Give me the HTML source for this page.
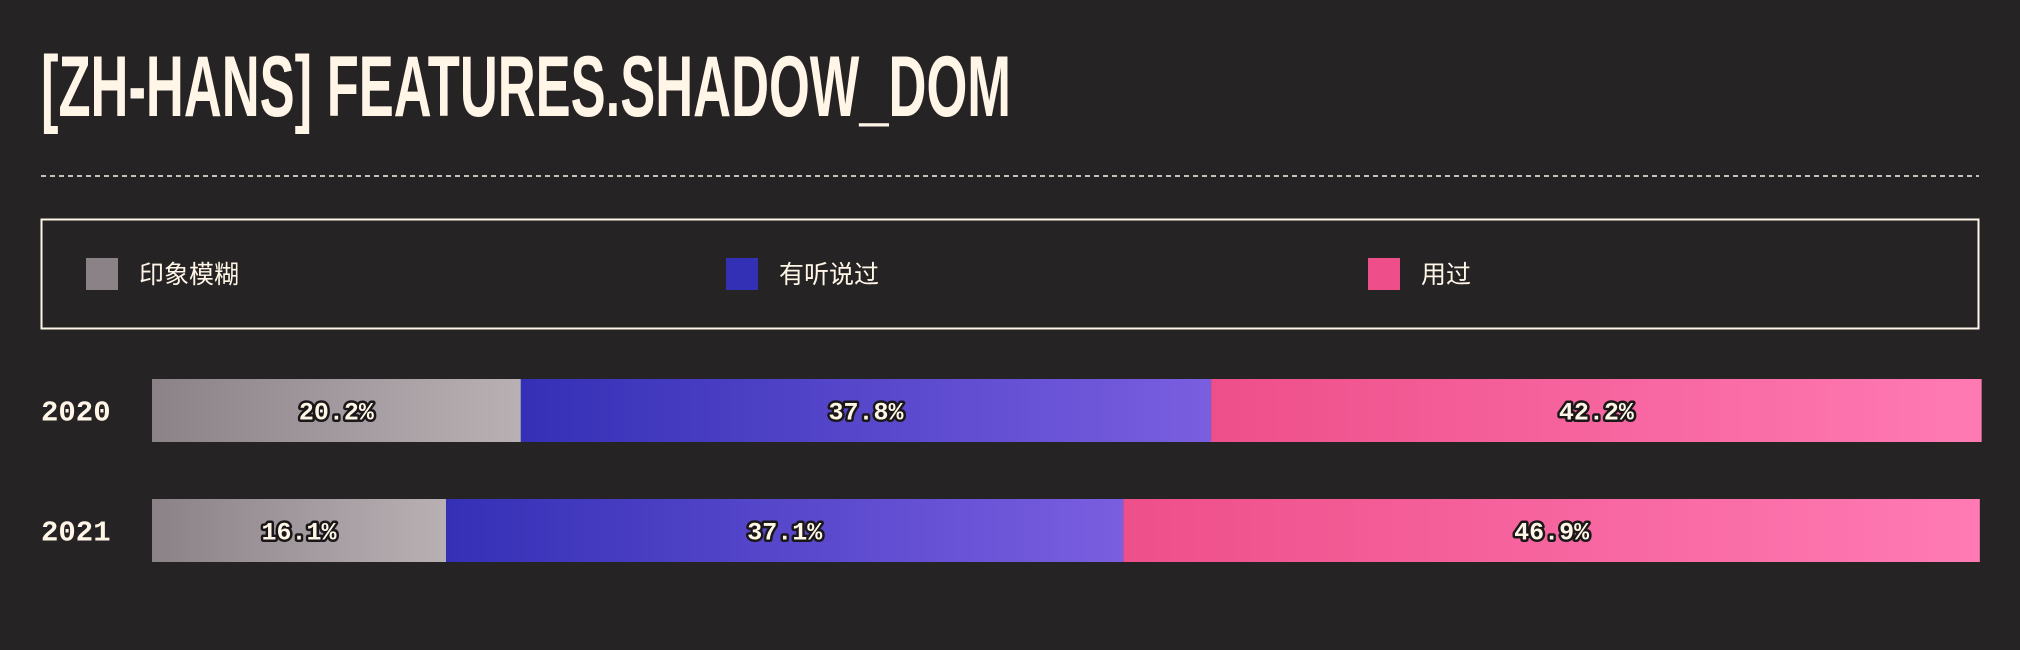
<!DOCTYPE html>
<html><head><meta charset="utf-8"><style>
html,body{margin:0;padding:0;background:#262324;width:2020px;height:650px;overflow:hidden}
svg{display:block}
</style></head><body>
<svg width="2020" height="650" xmlns="http://www.w3.org/2000/svg">
<defs>
<linearGradient id="g0" x1="0" x2="1" y1="0" y2="0"><stop offset="0" stop-color="#8b8288"/><stop offset="1" stop-color="#b9b0b4"/></linearGradient>
<linearGradient id="g1" x1="0" x2="1" y1="0" y2="0"><stop offset="0" stop-color="#3430b6"/><stop offset="1" stop-color="#7a5ee0"/></linearGradient>
<linearGradient id="g2" x1="0" x2="1" y1="0" y2="0"><stop offset="0" stop-color="#ee4f8a"/><stop offset="1" stop-color="#ff7ab3"/></linearGradient>
</defs>
<text x="41" y="116" fill="#fff6e8" font-family="'Liberation Sans Narrow','Liberation Sans',sans-serif" font-weight="bold" font-size="86" textLength="970" lengthAdjust="spacingAndGlyphs">[ZH-HANS] FEATURES.SHADOW_DOM</text>
<line x1="41" y1="176" x2="1979" y2="176" stroke="#fff6e8" stroke-width="1.5" stroke-dasharray="5,4"/>
<rect x="41.5" y="219.5" width="1937" height="109" fill="none" stroke="#fff6e8" stroke-width="2"/>
<g id="legend"></g>
<g id="bars"></g>
</svg>
<script>
const categories = ["印象模糊","有听说过","用过"];
const years = ["2020","2021"];
const values2020 = [20.2,37.8,42.2];
const values2021 = [16.1,37.1,46.9];
const series = [values2020, values2021];
const swatchColors = ["#8b8288","#3430b6","#ee4f8a"];
const NS="http://www.w3.org/2000/svg";
function mk(t,a){const e=document.createElementNS(NS,t);for(const k in a)e.setAttribute(k,a[k]);return e;}
const x0=152,x1=1978;
function xScale(p){return x0+(x1-x0)*p/100;}
function yBand(i){return 379+i*120;}
const barH=63;
const lg=document.getElementById('legend');
const legendX=[86,726,1368];
categories.forEach((c,i)=>{
  const r=mk('rect',{x:legendX[i],y:258,width:32,height:32,fill:swatchColors[i]});
  
  
  lg.appendChild(r);
  const t=mk('text',{x:legendX[i]+53,y:283,fill:'#fff6e8','font-size':'25','font-family':"'Liberation Sans','Noto Sans CJK SC',sans-serif"});
  t.textContent=c;
  
  
  lg.appendChild(t);
});
const bg=document.getElementById('bars');
years.forEach((y,yi)=>{
  const yy=yBand(yi);
  const lab=mk('text',{x:41,y:yy+barH/2+10,fill:'#fff6e8','font-size':'29','font-weight':'bold','font-family':"'Liberation Mono',monospace"});
  lab.textContent=y;
  
  
  bg.appendChild(lab);
  let cum=0;
  series[yi].forEach((v,ci)=>{
    const xa=xScale(cum), xb=xScale(cum+v);
    const r=mk('rect',{x:xa,y:yy,width:xb-xa,height:barH,fill:'url(#g'+ci+')'});
    
    
    bg.appendChild(r);
    const t=mk('text',{x:(xa+xb)/2,y:yy+barH/2+9,'text-anchor':'middle',fill:'#fff6e8',stroke:'#1a1718','stroke-width':'5','paint-order':'stroke','stroke-linejoin':'round','font-size':'25','font-weight':'bold','font-family':"'Liberation Mono',monospace"});
    t.textContent=v.toFixed(1)+'%';
    
    
    bg.appendChild(t);
    cum+=v;
  });
});
</script>
</body></html>
